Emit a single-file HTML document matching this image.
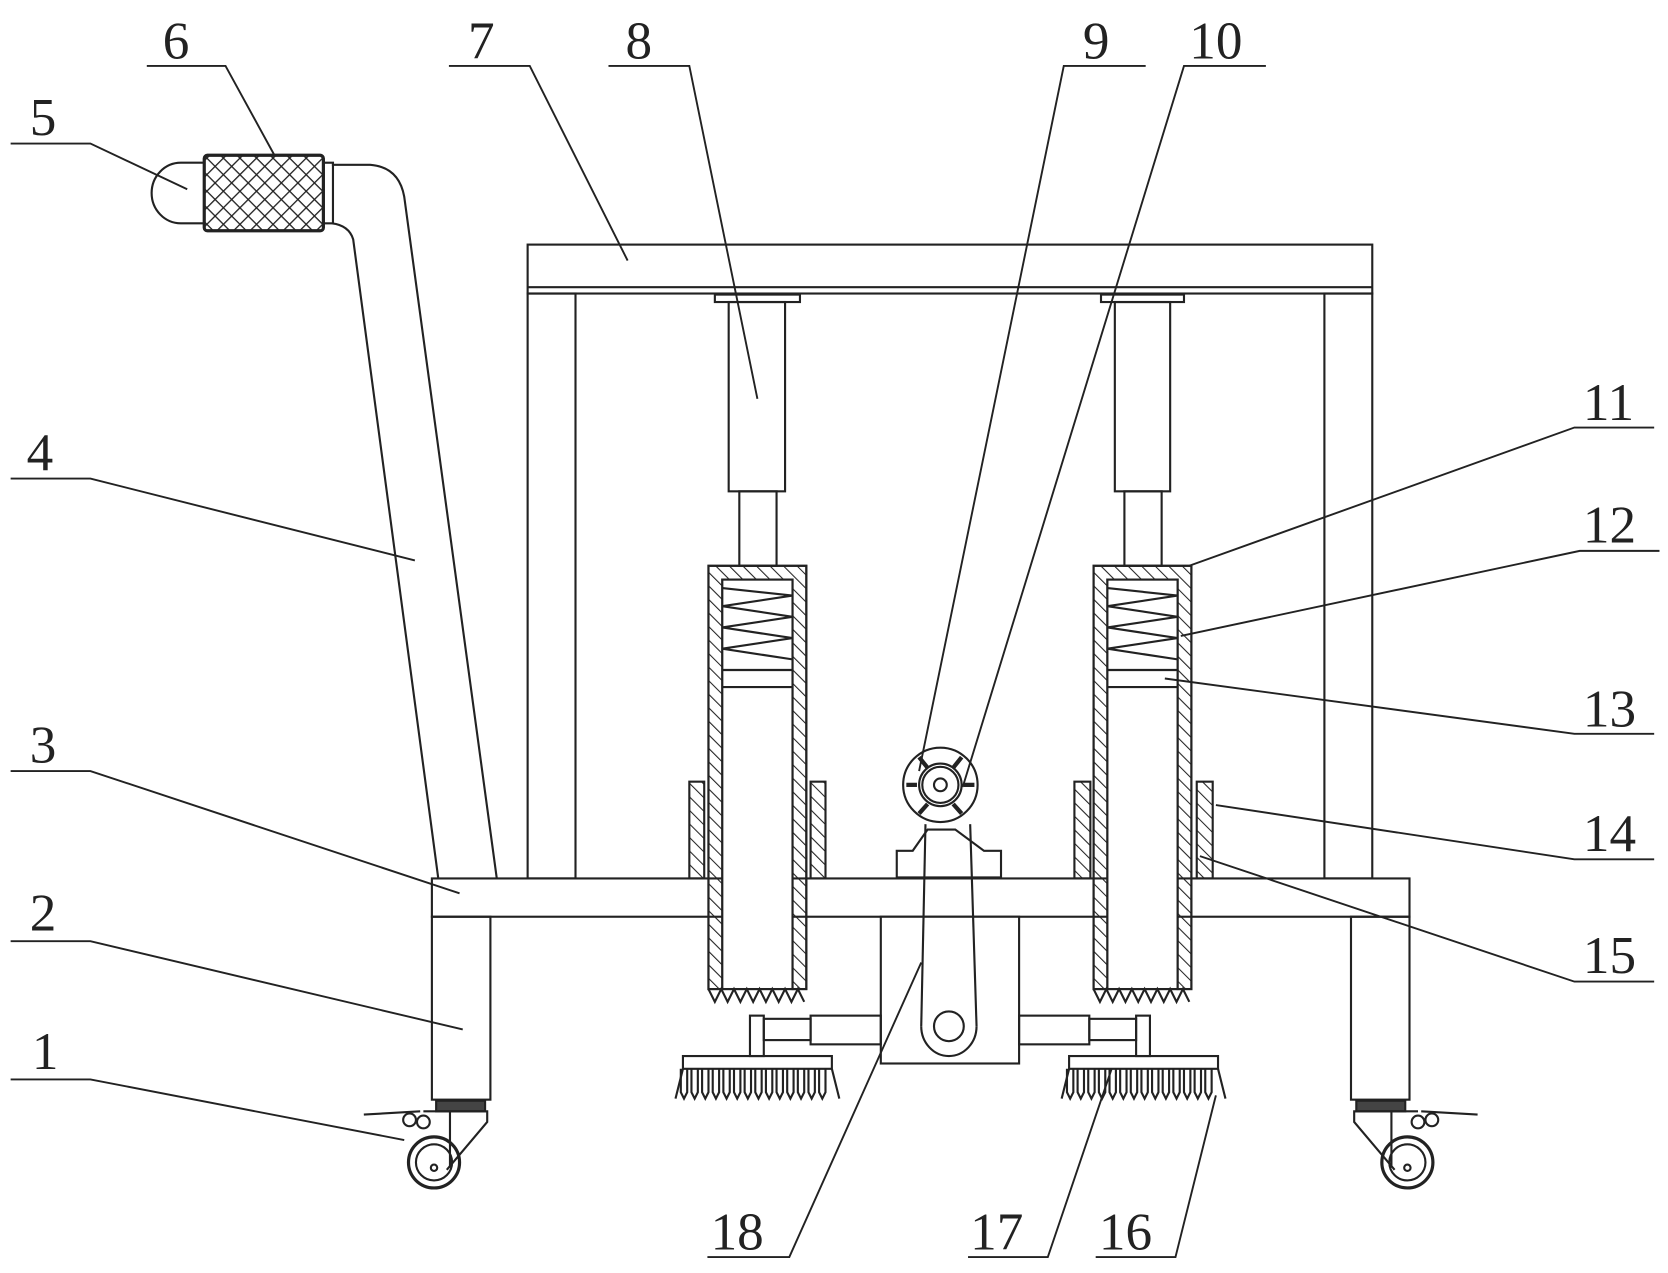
<!DOCTYPE html>
<html><head><meta charset="utf-8"><style>
html,body{margin:0;padding:0;background:#fff;}
svg{display:block;}
text{font-family:"Liberation Serif",serif;font-size:50px;fill:#222;}
</style></head><body>
<svg width="1668" height="1273" viewBox="0 0 1568 1197" preserveAspectRatio="none" xmlns="http://www.w3.org/2000/svg">
<defs>
<pattern id="h" width="9" height="9" patternUnits="userSpaceOnUse" patternTransform="rotate(-45)">
<line x1="0" y1="0" x2="0" y2="9" stroke="#222" stroke-width="2"/></pattern>
<pattern id="x" width="11" height="11" patternUnits="userSpaceOnUse" patternTransform="rotate(45)">
<rect width="11" height="11" fill="#fff"/><line x1="0" y1="0" x2="0" y2="11" stroke="#222" stroke-width="2.5"/><line x1="0" y1="0" x2="11" y2="0" stroke="#222" stroke-width="2.5"/></pattern>
</defs>
<g fill="none" stroke="#222" stroke-width="2">
<!-- top frame -->
<rect x="496" y="230" width="794" height="46"/>
<line x1="496" y1="270" x2="1290" y2="270"/>
<rect x="496" y="276" width="45" height="550"/>
<rect x="1245" y="276" width="45" height="550"/>
<!-- base -->
<rect x="406" y="826" width="919" height="36" fill="#fff"/>
<rect x="406" y="862" width="55" height="172"/>
<rect x="1270" y="862" width="55" height="172"/>
<!-- handle -->
<path d="M412 826 L332 225 Q328 212 312 210"/>
<path d="M467 826 L380 185 Q375 157 348 155 L312 155"/>
<rect x="304" y="153" width="9" height="57"/>
<path d="M192 153 L170 153 A27 28 0 0 0 170 210 L192 210"/>
<rect x="192" y="146" width="112" height="71" fill="url(#x)" stroke-width="3" rx="3"/>
<!-- cylinders -->
<rect x="672" y="277" width="80" height="7"/>
<rect x="685" y="284" width="53" height="178"/>
<rect x="695" y="462" width="35" height="70"/>
<rect x="1035" y="277" width="78" height="7"/>
<rect x="1048" y="284" width="52" height="178"/>
<rect x="1057" y="462" width="35" height="70"/>
<!-- sleeves -->
<g>
<path d="M666 532 H758 V930 H745 V545 H679 V930 H666 Z" fill="url(#h)"/>
<rect x="666" y="532" width="92" height="398"/>
<rect x="679" y="545" width="66" height="385" fill="#fff"/>
<polyline points="679,553 745,560 679,570 745,580 679,590 745,600 679,610 745,620"/>
<line x1="679" y1="630" x2="745" y2="630"/><line x1="679" y1="646" x2="745" y2="646"/>
<path d="M666 930 l6 12 l6 -12 l6 12 l6 -12 l6 12 l6 -12 l6 12 l6 -12 l6 12 l6 -12 l6 12 l6 -12 l6 12 l6 -12 l6 12"/>
</g>
<g transform="translate(362,0)">
<path d="M666 532 H758 V930 H745 V545 H679 V930 H666 Z" fill="url(#h)"/>
<rect x="666" y="532" width="92" height="398"/>
<rect x="679" y="545" width="66" height="385" fill="#fff"/>
<polyline points="679,553 745,560 679,570 745,580 679,590 745,600 679,610 745,620"/>
<line x1="679" y1="630" x2="745" y2="630"/><line x1="679" y1="646" x2="745" y2="646"/>
<path d="M666 930 l6 12 l6 -12 l6 12 l6 -12 l6 12 l6 -12 l6 12 l6 -12 l6 12 l6 -12 l6 12 l6 -12 l6 12 l6 -12 l6 12"/>
</g>
<!-- guides -->
<rect x="648" y="735" width="14" height="91" fill="url(#h)"/>
<rect x="762" y="735" width="14" height="91" fill="url(#h)"/>
<rect x="1010" y="735" width="15" height="91" fill="url(#h)"/>
<rect x="1125" y="735" width="15" height="91" fill="url(#h)"/>
<!-- motor -->
<path d="M843 825 V800 H858 L872 780 H898 L925 800 H941 V825 Z" fill="#fff"/>
<circle cx="884" cy="738" r="35" fill="#fff"/>
<circle cx="884" cy="738" r="20"/><circle cx="884" cy="738" r="17"/>
<circle cx="884" cy="738" r="6"/>
<g stroke-width="4"><line x1="864" y1="712" x2="872" y2="722"/><line x1="904" y1="712" x2="896" y2="722"/><line x1="852" y1="738" x2="862" y2="738"/><line x1="906" y1="738" x2="916" y2="738"/><line x1="864" y1="765" x2="872" y2="756"/><line x1="904" y1="765" x2="896" y2="756"/></g>
<!-- box and belt -->
<rect x="828" y="862" width="130" height="138" fill="#fff"/>
<line x1="870" y1="775" x2="866" y2="965"/><line x1="912" y1="775" x2="918" y2="965"/>
<path d="M866 965 A26 28 0 0 0 918 965"/>
<circle cx="892" cy="965" r="14"/>
<!-- side rods -->
<rect x="762" y="955" width="66" height="27"/>
<rect x="718" y="958" width="44" height="20"/>
<rect x="705" y="955" width="13" height="38"/>
<rect x="958" y="955" width="66" height="27"/>
<rect x="1024" y="958" width="44" height="20"/>
<rect x="1068" y="955" width="13" height="38"/>
<!-- brushes -->
<rect x="642" y="993" width="140" height="12"/>
<path d="M635 1033 L642 1005 M782 1005 L789 1033"/>
<path d="M640 1005 v22 l3 6 l3 -6 v-22 M650 1005 v22 l3 6 l3 -6 v-22 M660 1005 v22 l3 6 l3 -6 v-22 M670 1005 v22 l3 6 l3 -6 v-22 M680 1005 v22 l3 6 l3 -6 v-22 M690 1005 v22 l3 6 l3 -6 v-22 M700 1005 v22 l3 6 l3 -6 v-22 M710 1005 v22 l3 6 l3 -6 v-22 M720 1005 v22 l3 6 l3 -6 v-22 M730 1005 v22 l3 6 l3 -6 v-22 M740 1005 v22 l3 6 l3 -6 v-22 M750 1005 v22 l3 6 l3 -6 v-22 M760 1005 v22 l3 6 l3 -6 v-22 M770 1005 v22 l3 6 l3 -6 v-22"/>
<g transform="translate(363,0)">
<rect x="642" y="993" width="140" height="12"/>
<path d="M635 1033 L642 1005 M782 1005 L789 1033"/>
<path d="M640 1005 v22 l3 6 l3 -6 v-22 M650 1005 v22 l3 6 l3 -6 v-22 M660 1005 v22 l3 6 l3 -6 v-22 M670 1005 v22 l3 6 l3 -6 v-22 M680 1005 v22 l3 6 l3 -6 v-22 M690 1005 v22 l3 6 l3 -6 v-22 M700 1005 v22 l3 6 l3 -6 v-22 M710 1005 v22 l3 6 l3 -6 v-22 M720 1005 v22 l3 6 l3 -6 v-22 M730 1005 v22 l3 6 l3 -6 v-22 M740 1005 v22 l3 6 l3 -6 v-22 M750 1005 v22 l3 6 l3 -6 v-22 M760 1005 v22 l3 6 l3 -6 v-22 M770 1005 v22 l3 6 l3 -6 v-22"/>
</g>
<!-- casters -->
<g>
<rect x="410" y="1035" width="46" height="10" fill="#444"/>
<path d="M398 1045 H458 V1055 L420 1100"/>
<line x1="423" y1="1045" x2="423" y2="1098"/>
<path d="M342 1048 L395 1045"/>
<circle cx="385" cy="1053" r="6"/><circle cx="398" cy="1055" r="6"/>
<circle cx="408" cy="1093" r="24" stroke-width="3"/><circle cx="408" cy="1093" r="17"/>
<circle cx="408" cy="1098" r="3"/>
</g>
<g transform="translate(1731,0) scale(-1,1)">
<rect x="410" y="1035" width="46" height="10" fill="#444"/>
<path d="M398 1045 H458 V1055 L420 1100"/>
<line x1="423" y1="1045" x2="423" y2="1098"/>
<path d="M342 1048 L395 1045"/>
<circle cx="385" cy="1053" r="6"/><circle cx="398" cy="1055" r="6"/>
<circle cx="408" cy="1093" r="24" stroke-width="3"/><circle cx="408" cy="1093" r="17"/>
<circle cx="408" cy="1098" r="3"/>
</g>
<!-- leaders -->
<g stroke-width="1.8">
<path d="M10 1015 H85 L380 1072"/>
<path d="M10 885 H85 L435 968"/>
<path d="M10 725 H85 L432 840"/>
<path d="M10 450 H85 L390 527"/>
<path d="M10 135 H85 L176 178"/>
<path d="M138 62 H212 L258 146"/>
<path d="M422 62 H498 L590 245"/>
<path d="M572 62 H648 L712 375"/>
<path d="M1077 62 H1000 L864 725"/>
<path d="M1190 62 H1113 L905 740"/>
<path d="M1555 402 H1480 L1118 532"/>
<path d="M1560 518 H1485 L1110 598"/>
<path d="M1555 690 H1480 L1095 638"/>
<path d="M1555 808 H1480 L1143 757"/>
<path d="M1555 923 H1480 L1128 805"/>
<path d="M1030 1182 H1105 L1143 1030"/>
<path d="M910 1182 H985 L1045 1005"/>
<path d="M665 1182 H742 L866 905"/>
</g>
</g>
<g>
<text x="30" y="1005">1</text>
<text x="28" y="875">2</text>
<text x="28" y="717">3</text>
<text x="25" y="442">4</text>
<text x="28" y="127">5</text>
<text x="153" y="55">6</text>
<text x="440" y="55">7</text>
<text x="588" y="55">8</text>
<text x="1018" y="55">9</text>
<text x="1118" y="55">10</text>
<text x="1488" y="395">11</text>
<text x="1488" y="510">12</text>
<text x="1488" y="683">13</text>
<text x="1488" y="800">14</text>
<text x="1488" y="915">15</text>
<text x="1033" y="1175">16</text>
<text x="912" y="1175">17</text>
<text x="668" y="1175">18</text>
</g>
</svg>
</body></html>
